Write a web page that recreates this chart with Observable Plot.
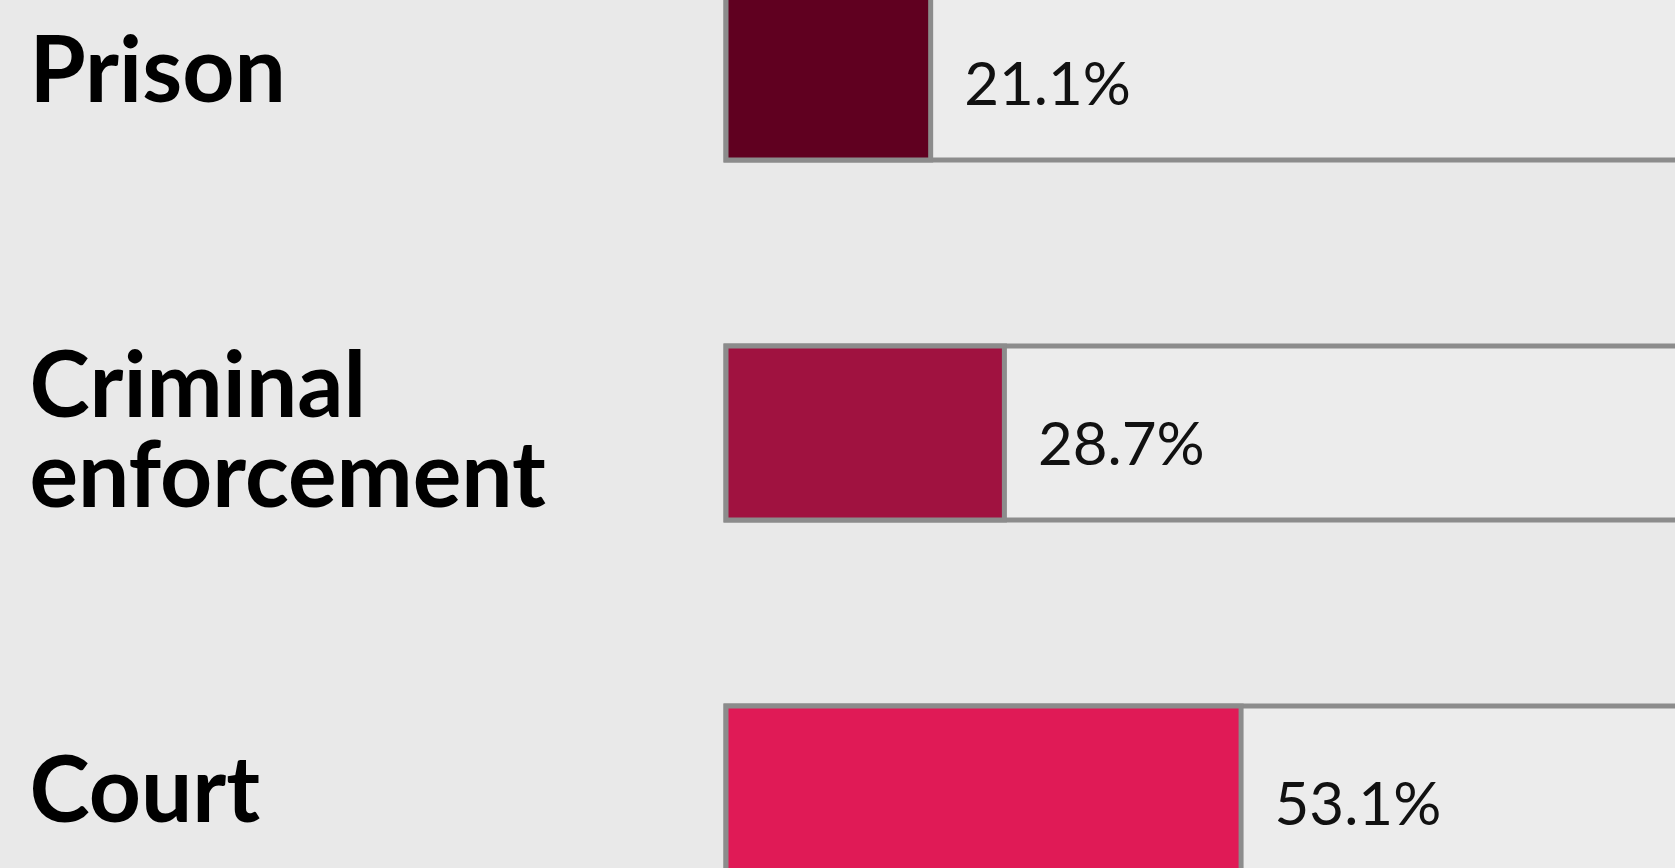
<!DOCTYPE html>
<html>
<head>
<meta charset="utf-8">
<script src="https://cdn.jsdelivr.net/npm/d3@7"></script>
<script src="https://cdn.jsdelivr.net/npm/@observablehq/plot@0.6"></script>
<style>
  html, body { margin: 0; padding: 0; background: #e9e9e9; overflow: hidden; }
</style>
</head>
<body>
<div id="chart"></div>
<script>
const categories = ["Prison", "Criminal enforcement", "Court"];
const categoryLabels = ["Prison", "Criminal\nenforcement", "Court"];
const shares = [21.1, 28.7, 53.1];
const colors = ["#600020", "#a01240", "#e01a56"];
const total = 100;

const data = categories.map((c, i) => ({
  category: c,
  label: categoryLabels[i],
  share: shares[i]
}));

const chart = Plot.plot({
  width: 1675,
  height: 868,
  margin: 0,
  style: { background: "#e9e9e9", fontFamily: "Lato, sans-serif", overflow: "hidden" },
  x: { domain: [0, total], range: [726, 1696], axis: null },
  y: { domain: categories, range: [-14, 880], paddingInner: 0.517, paddingOuter: 0, axis: null },
  color: { domain: categories, range: colors },
  marks: [
    Plot.barX(data, { x1: () => 0, x2: () => total, y: "category", fill: "#ececec", stroke: "#8c8c8c", strokeWidth: 5 }),
    Plot.barX(data, { x1: () => 0, x2: "share", y: "category", fill: "category", stroke: "#8c8c8c", strokeWidth: 5 }),
    Plot.text(data, { x: "share", y: "category", text: d => d.share.toFixed(1) + "%", textAnchor: "start", dx: 33, dy: 12, fontSize: 60, fontWeight: 400, fill: "#111" }),
    Plot.text(data, { frameAnchor: "left", y: "category", text: "label", textAnchor: "start", lineAnchor: "middle", dx: 29, fontSize: 91, fontWeight: 700, lineHeight: 0.99, fill: "#000" })
  ]
});
document.getElementById("chart").appendChild(chart);
</script>
</body>
</html>
